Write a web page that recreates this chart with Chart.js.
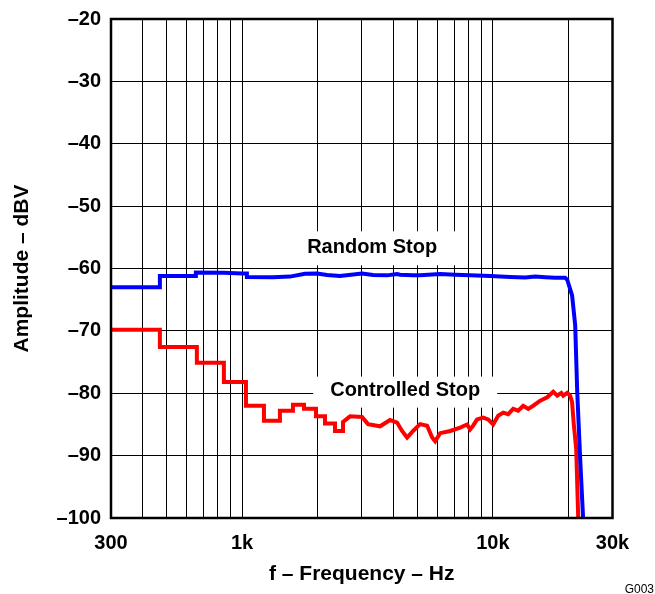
<!DOCTYPE html>
<html><head><meta charset="utf-8">
<script src="https://cdn.jsdelivr.net/npm/chart.js@4/dist/chart.umd.min.js"></script>
<style>html,body{margin:0;padding:0;background:#fff;overflow:hidden}</style>
</head><body>
<canvas id="c" width="655" height="594"></canvas>
<script>
// ---- data ----
const randomFreq = [300,470,470,654,654,846,1000,1045,1045,1327,1551,1781,1988,2181,2457,3008,3328,3784,4150,4265,4806,5126,6162,7072,8117,9754,11724,13456,14755,16173,17730,19437,19800,20700,21300,21700,22300,22900];
const randomDb   = [-63.0,-63.0,-61.2,-61.2,-60.65,-60.7,-60.8,-60.8,-61.35,-61.4,-61.3,-60.85,-60.8,-61.05,-61.2,-60.8,-61.05,-61.1,-60.9,-61.0,-61.1,-61.1,-60.9,-61.0,-61.1,-61.2,-61.35,-61.45,-61.3,-61.4,-61.5,-61.5,-61.8,-64.3,-69.1,-79.8,-90.6,-100];
const controlledFreq = [300,470,470,660,660,846,846,1036,1036,1222,1222,1415,1415,1595,1595,1765,1765,1970,1970,2141,2141,2347,2347,2526,2526,2694,3008,3178,3549,3890,4150,4344,4549,4806,5126,5468,5726,5886,6162,6756,7405,7896,8117,8344,8650,9148,9578,10028,10500,10992,11510,12050,12618,13213,13833,14486,15446,16474,17406,18060,18738,19082,19800,20355,20700,21000,21500,21900];
const controlledDb   = [-69.8,-69.8,-72.6,-72.6,-75.1,-75.1,-78.2,-78.2,-82.0,-82.0,-84.4,-84.4,-82.8,-82.8,-81.85,-81.85,-82.5,-82.5,-83.7,-83.7,-84.85,-84.85,-86.05,-86.05,-84.6,-83.7,-83.8,-84.95,-85.3,-84.3,-84.7,-86.05,-87.1,-86.05,-84.95,-85.2,-87.1,-87.7,-86.4,-86.05,-85.5,-85.0,-85.8,-85.2,-84.2,-83.9,-84.2,-85.0,-83.6,-83.1,-83.35,-82.5,-82.8,-82.0,-82.5,-82.0,-81.2,-80.65,-79.75,-80.4,-79.95,-80.4,-79.95,-80.4,-81.45,-84.7,-89.0,-100];
const seriesNames = ['Random Stop','Controlled Stop'];
const seriesColors = ['#0000ff','#ff0000'];
const xGridValues = [300,400,500,600,700,800,900,1000,2000,3000,4000,5000,6000,7000,8000,9000,10000,20000,30000];
const xTickLabels = {300:'300',1000:'1k',10000:'10k',30000:'30k'};
const yMin = -100, yMax = -20, yStep = 10;
const xTitle = 'f \u2013 Frequency \u2013 Hz';
const yTitle = 'Amplitude \u2013 dBV';
const figureId = 'G003';

const FONT = '"Liberation Sans", Arial, Helvetica, sans-serif';
const annotations = [
  {text: seriesNames[0], freq: 3300, db: -56.6, padX: 20, boxH: 34, dy: 1},
  {text: seriesNames[1], freq: 4470, db: -79.5, padX: 17, boxH: 31, dy: 2}
];

const toPts = (fx, fy) => fx.map((f, i) => ({x: f, y: fy[i]}));

const decoPlugin = {
  id: 'deco',
  beforeDatasetsDraw(chart) {
    const {ctx, scales: {x, y}} = chart;
    ctx.save();
    ctx.font = 'bold 20px ' + FONT;
    annotations.forEach(a => {
      const cx = x.getPixelForValue(a.freq), cy = y.getPixelForValue(a.db);
      const w = ctx.measureText(a.text).width;
      ctx.fillStyle = '#fff';
      ctx.fillRect(cx - w / 2 - a.padX, cy - a.boxH / 2 + a.dy, w + 2 * a.padX, a.boxH);
      ctx.fillStyle = '#000';
      ctx.textAlign = 'center';
      ctx.textBaseline = 'middle';
      ctx.fillText(a.text, cx, cy);
    });
    ctx.restore();
  },
  afterDraw(chart) {
    const {ctx, chartArea: ca} = chart;
    ctx.save();
    ctx.strokeStyle = '#000';
    ctx.lineWidth = 2.5;
    ctx.strokeRect(ca.left, ca.top, ca.right - ca.left, ca.bottom - ca.top);
    ctx.fillStyle = '#000';
    ctx.font = '12px ' + FONT;
    ctx.textAlign = 'right';
    ctx.textBaseline = 'alphabetic';
    ctx.fillText(figureId, 654, 593);
    ctx.restore();
  }
};

new Chart(document.getElementById('c'), {
  type: 'line',
  data: {
    datasets: [
      {label: seriesNames[0], data: toPts(randomFreq, randomDb), borderColor: seriesColors[0], borderWidth: 4, pointRadius: 0, tension: 0, fill: false},
      {label: seriesNames[1], data: toPts(controlledFreq, controlledDb), borderColor: seriesColors[1], borderWidth: 4, pointRadius: 0, tension: 0, fill: false}
    ]
  },
  options: {
    responsive: false,
    animation: false,
    devicePixelRatio: 1,
    layout: {padding: {left: 0, top: 19, right: 42.5, bottom: 0}},
    plugins: {legend: {display: false}, tooltip: {enabled: false}},
    scales: {
      x: {
        type: 'logarithmic', min: 300, max: 30000,
        afterBuildTicks: s => { s.ticks = xGridValues.map(v => ({value: v})); },
        afterFit: s => { s.height = 76; s.paddingLeft = 0; s.paddingRight = 0; },
        grid: {color: '#000', lineWidth: 1, drawTicks: false},
        border: {display: false},
        ticks: {autoSkip: false, maxRotation: 0, padding: 13, color: '#000',
          font: {family: FONT, size: 20, weight: 'bold'},
          callback: v => xTickLabels[v] || ''},
        title: {display: true, text: xTitle, color: '#000', padding: {top: 0, bottom: 7},
          font: {family: FONT, size: 21, weight: 'bold'}}
      },
      y: {
        min: yMin, max: yMax,
        afterFit: s => { s.width = 111; s.paddingTop = 0; s.paddingBottom = 0; },
        grid: {color: '#000', lineWidth: 1, drawTicks: false},
        border: {display: false},
        ticks: {stepSize: yStep, padding: 10, color: '#000',
          font: {family: FONT, size: 20, weight: 'bold'},
          callback: v => (v < 0 ? '\u2013' + Math.abs(v) : String(v))},
        title: {display: true, text: yTitle, color: '#000', padding: {top: 10, bottom: 0},
          font: {family: FONT, size: 21, weight: 'bold'}}
      }
    }
  },
  plugins: [decoPlugin]
});
</script>
</body></html>
